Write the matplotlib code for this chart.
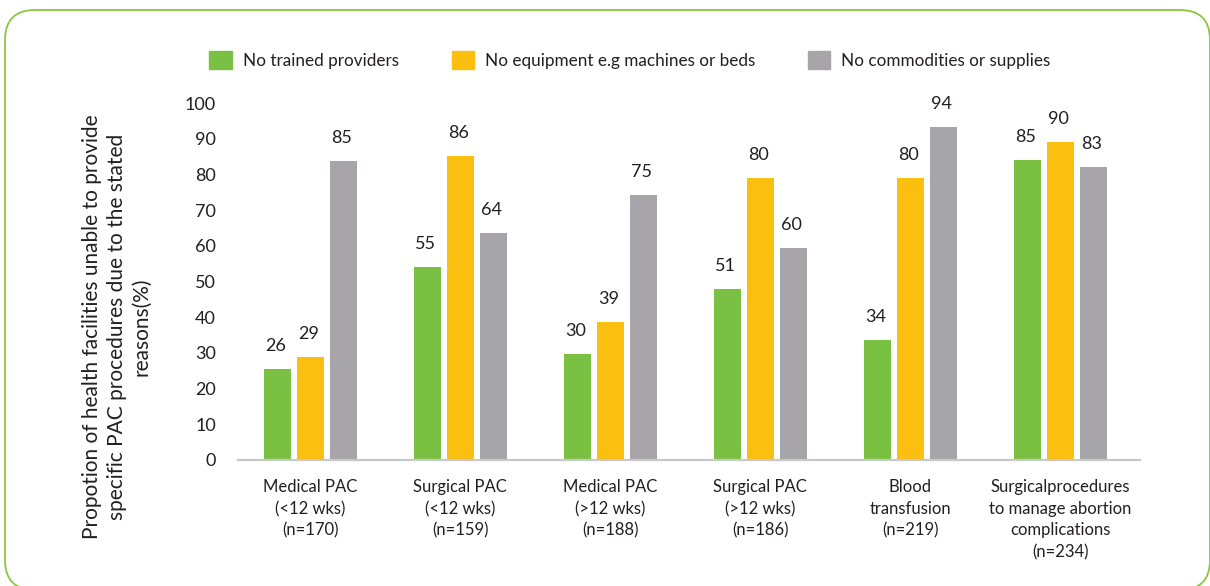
import numpy as np
import matplotlib.pyplot as plt
from matplotlib.patches import Patch, FancyBboxPatch

# categories and series
categories = ['Medical PAC\n(<12 wks)\n(n=170)',
              'Surgical PAC\n(<12 wks)\n(n=159)',
              'Medical PAC\n(>12 wks)\n(n=188)',
              'Surgical PAC\n(>12 wks)\n(n=186)',
              'Blood\ntransfusion\n(n=219)',
              'Surgicalprocedures\nto manage abortion\ncomplications\n(n=234)']
series_names = ['No trained providers',
                'No equipment e.g machines or beds',
                'No commodities or supplies']

# bar heights as drawn in the picture
no_providers = [25.5, 54.1, 29.7, 47.9, 33.6, 84.0]
no_equipment = [28.9, 85.2, 38.7, 79.0, 79.0, 89.1]
no_supplies = [83.8, 63.6, 74.2, 59.4, 93.3, 82.1]

# value labels printed above the bars
lbl_providers = [26, 55, 30, 51, 34, 85]
lbl_equipment = [29, 86, 39, 80, 80, 90]
lbl_supplies = [85, 64, 75, 60, 94, 83]

colors = ['#7AC143', '#FBBF10', '#A7A5A9']
text_color = '#231F20'

plt.rcParams['font.family'] = ['Lato', 'DejaVu Sans']
plt.rcParams['text.color'] = text_color

fig = plt.figure(figsize=(12.1, 5.86), dpi=100)
ax = fig.add_axes([238 / 1210, 126 / 586, 902 / 1210, 357 / 586])

x = np.arange(len(categories))
offsets = [-0.22, 0.0, 0.22]
width = 0.18
heights = [no_providers, no_equipment, no_supplies]
labels = [lbl_providers, lbl_equipment, lbl_supplies]

for i in range(3):
	bars = ax.bar(x + offsets[i], heights[i], width, color=colors[i], label=series_names[i])
	for b, v in zip(bars, labels[i]):
		ax.annotate(str(v), (b.get_x() + b.get_width() / 2, b.get_height()),
		            xytext=(-1, 11), textcoords='offset points',
		            ha='center', va='bottom', fontsize=13, color=text_color)

ax.set_xlim(-0.48, 5.533)
ax.set_ylim(0, 100)
ax.set_yticks(range(0, 101, 10))
ax.set_xticks(x)
ax.set_xticklabels(categories, fontsize=12, linespacing=1.42)
ax.tick_params(axis='both', length=0, colors=text_color)
ax.tick_params(axis='y', labelsize=13, pad=16)
ax.tick_params(axis='x', pad=14)

for s in ['top', 'right', 'left']:
	ax.spines[s].set_visible(False)
ax.spines['bottom'].set_color('#C8C8C8')
ax.spines['bottom'].set_linewidth(1.6)

fig.text(117 / 1210, 1 - 327 / 586,
         'Propotion of health facilities unable to provide\n'
         'specific PAC procedures due to the stated\nreasons(%)',
         rotation=90, ha='center', va='center', multialignment='center',
         fontsize=15, linespacing=1.3)

handles = [Patch(color=c) for c in colors]
fig.legend(handles, series_names, loc='center', bbox_to_anchor=(630 / 1210, 1 - 60 / 586),
           ncol=3, frameon=False, fontsize=12.3, handlelength=1.3, handleheight=1.3,
           handletextpad=0.65, columnspacing=3.1)

# rounded green frame
frame = FancyBboxPatch((0.05, -0.04), 12.05, 5.80,
                       boxstyle='round,pad=0,rounding_size=0.3',
                       transform=fig.dpi_scale_trans, fill=False,
                       edgecolor='#8CC63F', linewidth=1.3, clip_on=False)
fig.add_artist(frame)

fig.savefig('out.png', dpi=100)
